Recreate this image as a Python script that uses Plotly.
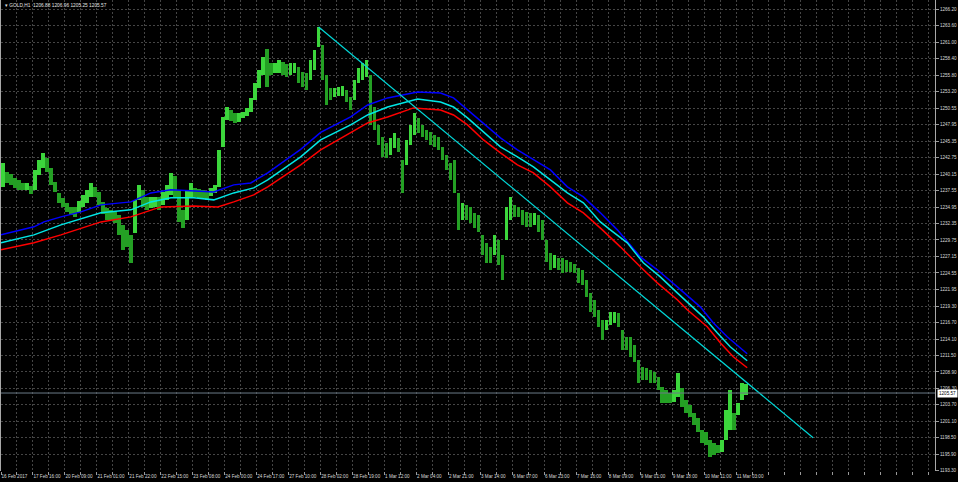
import numpy as np
import plotly.graph_objects as go

# ---------------- data ----------------
symbol_header = "\u25BE GOLD,H1  1206.88 1206.96 1205.25 1205.57"
last_price = 1205.57
hours_per_bar = 2

bar_high = [
    1241.93, 1240.51, 1240.20, 1239.56, 1239.25, 1238.77, 1238.77, 1238.30, 1240.83, 1242.41,
    1243.51, 1242.72, 1241.14, 1238.93, 1237.20, 1236.41, 1235.62, 1234.98, 1234.98, 1235.93,
    1236.88, 1237.67, 1238.77, 1238.14, 1237.35, 1235.77, 1234.83, 1234.51, 1234.20, 1233.72,
    1232.14, 1231.35, 1230.56, 1236.09, 1238.46, 1237.67, 1236.56, 1236.56, 1236.56, 1236.56,
    1237.35, 1238.46, 1240.35, 1239.88, 1237.67, 1234.51, 1237.67, 1238.77, 1237.98, 1237.83,
    1237.67, 1237.35, 1237.98, 1238.46, 1243.98, 1249.20, 1250.77, 1250.30, 1249.83, 1249.83,
    1249.99, 1250.62, 1252.20, 1254.56, 1256.62, 1258.67, 1259.93, 1257.72, 1257.72, 1258.20,
    1257.88, 1257.56, 1257.72, 1257.72, 1257.09, 1256.30, 1256.14, 1258.20, 1259.77, 1263.41,
    1260.56, 1255.83, 1253.77, 1253.77, 1253.93, 1254.09, 1253.46, 1252.35, 1255.04, 1256.93,
    1257.72, 1258.20, 1255.83, 1250.77, 1247.93, 1246.04, 1245.09, 1245.88, 1246.67, 1245.88,
    1242.41, 1245.56, 1247.93, 1249.83, 1249.04, 1247.93, 1247.14, 1246.83, 1246.35, 1246.04,
    1244.46, 1243.20, 1241.93, 1242.41, 1237.20, 1235.62, 1235.30, 1234.98, 1234.04, 1233.72,
    1230.56, 1229.30, 1228.67, 1230.56, 1229.77, 1227.41, 1234.98, 1236.56, 1235.30, 1234.98,
    1234.51, 1234.20, 1234.04, 1234.04, 1233.72, 1232.93, 1229.77, 1227.72, 1227.41, 1226.93,
    1226.93, 1226.62, 1226.30, 1225.98, 1225.35, 1225.04, 1223.46, 1221.41, 1220.30, 1218.72,
    1217.14, 1217.14, 1218.41, 1218.41, 1218.25, 1215.56, 1214.46, 1214.46, 1213.19, 1210.83,
    1209.72, 1209.56, 1209.25, 1208.93, 1208.14, 1206.56, 1206.09, 1205.62, 1206.09, 1208.77,
    1206.40, 1204.51, 1203.72, 1202.46, 1201.67, 1199.77, 1199.46, 1198.19, 1197.72, 1197.40,
    1198.19, 1202.93, 1206.09, 1202.46, 1204.04, 1207.19, 1206.96,
]
bar_low = [
    1238.14, 1238.77, 1238.50, 1237.98, 1237.67, 1237.67, 1237.67, 1237.04, 1237.67, 1240.04,
    1241.14, 1240.51, 1238.46, 1237.35, 1235.62, 1234.98, 1234.20, 1233.72, 1233.41, 1234.20,
    1234.98, 1235.62, 1236.56, 1236.56, 1235.30, 1233.88, 1232.93, 1232.93, 1232.46, 1230.56,
    1228.19, 1228.67, 1226.14, 1230.88, 1236.09, 1234.98, 1234.51, 1234.83, 1234.98, 1234.51,
    1235.30, 1236.09, 1236.88, 1236.56, 1232.62, 1231.67, 1232.93, 1236.56, 1236.56, 1236.41,
    1236.41, 1236.09, 1236.72, 1237.20, 1238.14, 1244.46, 1248.72, 1248.56, 1248.25, 1248.41,
    1249.04, 1249.35, 1249.99, 1251.88, 1253.77, 1255.83, 1253.93, 1255.83, 1256.14, 1256.14,
    1255.83, 1255.51, 1255.83, 1256.14, 1254.56, 1253.93, 1253.46, 1255.04, 1256.62, 1260.25,
    1255.04, 1251.09, 1251.88, 1252.35, 1252.51, 1252.51, 1251.56, 1250.30, 1251.88, 1254.56,
    1255.04, 1255.51, 1247.93, 1247.14, 1244.77, 1242.88, 1242.72, 1243.20, 1244.30, 1243.67,
    1237.20, 1241.62, 1244.77, 1246.35, 1246.67, 1246.04, 1245.56, 1244.77, 1244.46, 1243.98,
    1242.41, 1240.83, 1239.25, 1237.20, 1231.35, 1232.93, 1232.93, 1232.46, 1231.67, 1231.04,
    1227.41, 1226.14, 1226.14, 1227.41, 1225.83, 1223.46, 1229.77, 1232.93, 1233.41, 1233.41,
    1232.14, 1231.83, 1231.83, 1232.14, 1231.04, 1229.77, 1226.30, 1225.04, 1225.35, 1225.04,
    1224.56, 1224.72, 1224.72, 1224.56, 1222.98, 1222.67, 1220.77, 1218.41, 1217.62, 1216.04,
    1213.98, 1215.56, 1216.35, 1216.67, 1216.04, 1212.40, 1212.40, 1211.30, 1210.51, 1207.19,
    1207.67, 1207.67, 1207.19, 1207.19, 1206.09, 1204.04, 1204.04, 1204.04, 1204.19, 1204.98,
    1203.40, 1202.46, 1201.83, 1200.56, 1199.46, 1197.72, 1197.40, 1195.51, 1195.83, 1196.14,
    1196.30, 1198.19, 1199.77, 1199.77, 1202.14, 1204.51, 1205.25,
]

# moving averages (hour offset from first bar, price)
ma_blue_hours = [0, 16.5, 21.5, 30, 40, 50, 65, 75, 85, 96.5, 106.5, 116.5, 125, 133.5, 141.5, 150,
                 160, 175, 183.5, 193.5, 208.5, 220, 226.5, 233.5, 241.5, 250, 258.5, 266.5, 275,
                 283.5, 291.5, 300, 308.5, 320, 328.5, 338.5, 350, 356.5, 363.5, 373.5]
ma_blue = [1230.56, 1231.83, 1232.61, 1233.40, 1234.19, 1235.30, 1235.77, 1237.19, 1237.67, 1237.51,
           1237.35, 1238.46, 1238.77, 1240.35, 1242.09, 1244.06, 1246.75, 1249.19, 1251.09, 1252.20,
           1253.14, 1252.98, 1252.20, 1250.30, 1248.25, 1245.88, 1243.98, 1242.40, 1240.83, 1238.14,
           1236.56, 1234.04, 1231.35, 1227.09, 1225.04, 1222.35, 1219.19, 1216.67, 1214.46, 1211.77]
ma_cyan_hours = [0, 16.5, 30, 50, 65, 75, 85, 96.5, 106.5, 116.5, 126.5, 133.5, 150, 160, 175, 183.5,
                 193.5, 208.5, 220, 226.5, 233.5, 241.5, 250, 258.5, 266.5, 275, 283.5, 291.5, 300,
                 305, 313.5, 321.5, 330, 338.5, 351.5, 358.5, 365, 373.5]
ma_cyan = [1229.30, 1230.56, 1232.14, 1234.04, 1234.51, 1235.77, 1236.41, 1236.41, 1236.09, 1237.19,
           1237.98, 1239.25, 1242.88, 1245.56, 1247.93, 1249.51, 1250.77, 1252.04, 1251.56, 1250.77,
           1249.04, 1246.83, 1244.46, 1242.88, 1241.30, 1239.25, 1237.19, 1235.62, 1232.61, 1231.35,
           1229.30, 1226.14, 1223.93, 1221.40, 1217.61, 1215.09, 1212.88, 1210.67]
ma_red_hours = [0, 16.5, 30, 50, 65, 75, 80, 96.5, 108.5, 116.5, 126.5, 133.5, 150, 160, 175, 183.5,
                193.5, 206.5, 220, 226.5, 233.5, 241.5, 250, 258.5, 266.5, 275, 283.5, 291.5, 301,
                310, 320, 328.5, 338.5, 343.5, 353.5, 360, 366.5, 373.5]
ma_red = [1228.19, 1229.30, 1230.56, 1232.61, 1233.40, 1234.51, 1234.98, 1235.14, 1234.98, 1235.77,
          1236.88, 1238.14, 1241.62, 1243.98, 1246.67, 1248.25, 1249.19, 1250.62, 1250.30, 1249.51,
          1247.93, 1245.56, 1243.51, 1241.62, 1240.35, 1238.14, 1235.62, 1234.04, 1231.35, 1228.67,
          1225.51, 1222.98, 1220.30, 1218.72, 1216.04, 1213.51, 1211.30, 1209.56]

trend_hours = [159, 406.5]
trend_price = [1263.40, 1198.51]

price_ticks = [1266.20, 1263.60, 1261.00, 1258.40, 1255.80, 1253.20, 1250.55, 1247.95, 1245.35,
               1242.75, 1240.15, 1237.55, 1234.95, 1232.35, 1229.75, 1227.15, 1224.55, 1221.95,
               1219.30, 1216.70, 1214.10, 1211.50, 1208.90, 1206.30, 1203.70, 1201.10, 1198.50,
               1195.90, 1193.30]
time_labels = ["16 Feb 2017", "17 Feb 16:00", "20 Feb 09:00", "21 Feb 01:00", "21 Feb 22:00",
               "22 Feb 15:00", "23 Feb 08:00", "24 Feb 00:00", "24 Feb 17:00", "27 Feb 10:00",
               "28 Feb 02:00", "28 Feb 19:00", "1 Mar 12:00", "2 Mar 04:00", "2 Mar 21:00",
               "3 Mar 14:00", "6 Mar 07:00", "6 Mar 23:00", "7 Mar 16:00", "8 Mar 09:00",
               "9 Mar 01:00", "9 Mar 18:00", "10 Mar 11:00", "11 Mar 03:00"]
label_step_hours = 16
grid_step_hours = 8
x_span_hours = 467.5

# ---------------- figure ----------------
hi = np.array(bar_high)
lo = np.array(bar_low)
n = len(hi)
bx = np.arange(n) * hours_per_bar + hours_per_bar / 2
mid = (hi + lo) / 2
up = np.concatenate([[True], mid[1:] >= mid[:-1]])
colors = np.where(up, "#3cd63c", "#24a024")

fig = go.Figure()
fig.add_trace(go.Bar(x=bx, y=hi - lo, base=lo, width=hours_per_bar * 0.9,
                     marker=dict(color=colors, line=dict(width=0)), showlegend=False))
fig.add_trace(go.Scatter(x=ma_blue_hours, y=ma_blue, mode="lines",
                         line=dict(color="#0000ff", width=1.5), showlegend=False))
fig.add_trace(go.Scatter(x=ma_cyan_hours, y=ma_cyan, mode="lines",
                         line=dict(color="#00e6e6", width=1.5), showlegend=False))
fig.add_trace(go.Scatter(x=ma_red_hours, y=ma_red, mode="lines",
                         line=dict(color="#ff0000", width=1.5), showlegend=False))
fig.add_trace(go.Scatter(x=trend_hours, y=trend_price, mode="lines",
                         line=dict(color="#00d8d8", width=1.2), showlegend=False))
fig.add_trace(go.Scatter(x=[0, x_span_hours], y=[last_price, last_price], mode="lines",
                         line=dict(color="#6a7a88", width=1), showlegend=False))

tick_hours = list(range(0, int(x_span_hours) + 1, grid_step_hours))
tick_text = []
for h in tick_hours:
    k = h // label_step_hours
    if h % label_step_hours == 0 and k < len(time_labels):
        tick_text.append(time_labels[k])
    else:
        tick_text.append("")

FAM = "Liberation Sans, Arial, sans-serif"
font = dict(family=FAM, size=4.6, color="#d8d8d8")

fig.update_layout(
    width=958, height=482,
    margin=dict(l=1, r=23, t=0, b=11, autoexpand=False),
    paper_bgcolor="#000000", plot_bgcolor="#000000",
    bargap=0, barmode="overlay",
    font=font,
    xaxis=dict(range=[0, x_span_hours], tickvals=tick_hours, ticktext=tick_text,
               tickangle=0, ticklabelposition="outside right", ticks="outside", ticklen=3,
               tickcolor="#9a9a9a", tickfont=font, automargin=False,
               showgrid=True, gridcolor="#454545", griddash="2px,2px", gridwidth=1,
               zeroline=False, showline=False, fixedrange=True),
    yaxis=dict(range=[1193.25, 1267.67], side="right", tickvals=price_ticks,
               ticktext=[f"{v:.2f}" for v in price_ticks], ticks="outside", ticklen=3,
               tickcolor="#9a9a9a", tickfont=font, automargin=False,
               showgrid=True, gridcolor="#454545", griddash="2px,2px", gridwidth=1,
               zeroline=False, showline=True, linecolor="#a8a8a8", linewidth=1, mirror=True,
               fixedrange=True),
)

fig.add_annotation(x=0.002, y=0.998, xref="paper", yref="paper", xanchor="left", yanchor="top",
                   text=symbol_header, showarrow=False,
                   font=dict(family=FAM, size=4.8, color="#e0e0e0"))
fig.add_annotation(x=1.002, y=last_price, xref="paper", yref="y", xanchor="left", yanchor="middle",
                   text=f"{last_price:.2f}", showarrow=False, bgcolor="#ffffff", borderpad=1,
                   font=dict(family=FAM, size=4.6, color="#000000"))

fig.write_html("out.html", config={"displayModeBar": False},
               post_script="document.body.style.margin='0';document.body.style.background='#000';")
